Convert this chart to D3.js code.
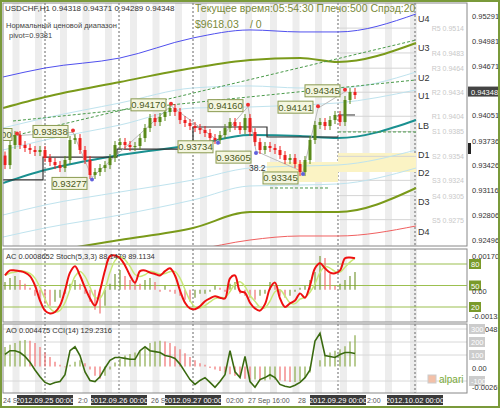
<!DOCTYPE html>
<html><head><meta charset="utf-8">
<script src="https://cdn.jsdelivr.net/npm/d3@7"></script>
<style>body{margin:0;background:#fff}text{font-family:"Liberation Sans",Arial,sans-serif}</style>
</head><body><div id="chart"></div>
<script>
// hourly closes, USDCHF H1
var closes = [0.93431,0.93681,0.93806,0.93681,0.93644,0.93619,0.93594,0.93619,0.93519,0.93469,
  0.93431,0.93394,0.93494,0.93744,0.93768,0.93619,0.93494,0.93307,0.93344,0.93394,
  0.93431,0.93519,0.93681,0.93719,0.93681,0.93656,0.93669,0.93768,0.93893,0.94018,
  0.93968,0.94031,0.94093,0.94143,0.94093,0.93993,0.93956,0.93918,0.93893,0.93868,
  0.93831,0.93768,0.93744,0.93806,0.93893,0.93968,0.93918,0.93868,0.94018,0.93843,
  0.93718,0.93619,0.93669,0.93644,0.93619,0.93556,0.93494,0.93519,0.93444,0.93344,
  0.93494,0.93744,0.93931,0.93968,0.93918,0.93993,0.94056,0.93968,0.94243,0.94343,0.94305];
var firstOpen = 0.93550;
var stoch = [64,71,71,70,68,63,50,29,15,11,13,22,43,68,77,64,47,32,22,43,71,91,92,88,78,64,54,70,71,68,
  66,64,70,74,64,43,26,18,17,21,28,32,35,33,32,60,64,42,40,26,18,15,24,46,54,32,20,25,29,39,
  33,50,74,81,74,68,67,71,88,89,88];
var ac = [4,6,7,5,3,1,-3,-5,-7,-8,-6,-4,-2,3,5,3,-2,-6,-10,-12,-8,3,8,10,7,5,4,3,5,6,4,-1,2,-1,-2,-3,-5,-6,-4,-2,
  -2,-1,2,1,-1,3,4,-2,-3,-4,-5,-3,-2,4,2,-3,-4,-3,-1,1,2,5,9,17,16,8,2,3,5,7,9]; // x1e-4
var ao = [25,28,30,33,34,33,30,25,18,12,6,2,-1,2,6,8,4,-4,-12,-16,-12,-4,5,10,14,16,18,20,24,30,32,33,32,30,26,22,17,12,8,4,
  2,-2,-4,-6,-8,-10,-12,-14,-16,-17,-17,-18,-18,-17,-17,-18,-19,-20,-20,-19,-15,-8,0,8,14,18,20,22,26,32,40]; // x1e-4
var cci = [104,133,133,119,89,44,-15,-67,-111,-126,-111,-104,-52,133,163,96,-30,-96,-104,-67,0,59,81,81,74,67,67,133,163,133,
  126,119,96,89,74,30,-30,-89,-126,-96,-74,-111,-148,-104,-52,133,-30,-74,89,-104,-148,-89,-74,-52,-74,-126,-141,-148,-133,-111,
  -74,-15,207,267,96,89,81,104,119,119,111];

// channel curves sampled at knot bars
var knots = [-0.4,8,23,37.6,49,59,66.6,82.2];
var bandU4 = [0.94530,0.94642,0.94767,0.95017,0.95117,0.95092,0.95092,0.95316];
var bandU3 = [0.94143,0.94280,0.94468,0.94642,0.94742,0.94767,0.94717,0.94954];
var bandU2 = [0.93894,0.94018,0.94206,0.94393,0.94418,0.94393,0.94393,0.94592];
var bandU1 = [0.93619,0.93744,0.93931,0.94143,0.94156,0.94181,0.94206,0.94368];
var bandLB = [0.93207,0.93369,0.93557,0.93681,0.93806,0.93794,0.93769,0.93993];
var bandD1 = [0.92808,0.92933,0.93095,0.93245,0.93394,0.93419,0.93432,0.93619];
var bandD2 = [0.92533,0.92646,0.92808,0.92995,0.93170,0.93182,0.93195,0.93394];
var bandD3 = [0.92271,0.92346,0.92496,0.92646,0.92845,0.92845,0.92845,0.93145];
var bandD4 = [0.92221,0.92221,0.92271,0.92371,0.92496,0.92546,0.92546,0.92671];
var bandNames = ["U4","U3","U2","U1","LB","D1","D2","D3","D4"];
var bandLabelPrices = [0.95266,0.94904,0.94530,0.94305,0.93931,0.93569,0.93344,0.92982,0.92608];

var pivotNames = ["R5","R4","R3","R2","R1","S1","S2","S3","S4","S5"];
var pivotValues = [0.9514,0.9483,0.9464,0.9434,0.9404,0.9385,0.9354,0.9324,0.9305,0.9275];
var priceTicks = [0.95291,0.94981,0.94671,0.94051,0.93736,0.93426,0.93116,0.92806,0.92496];
var lastPrice = 0.94348;

var extremeText = ["0.93800","0.93838","0.93277","0.94170","0.93734","0.94160","0.93605","0.94141","0.94345","0.93345"];
var extremeIdx = [2.4,13.6,17.4,33.2,42.6,48.6,50.2,62.6,68,59.6];
var extremeDir = [1,1,-1,1,-1,1,-1,1,1,-1];
var pivotSteps = [[-0.4,0.93245],[7.6,0.93245],[7.6,0.93531],[22.4,0.93531],[22.4,0.93631],[37.6,0.93631],[37.6,0.93906],[52.4,0.93906],[52.4,0.93781],[66.6,0.93781]];
var dayIdx = [8,22.8,37.6,66.6,82];
var stripeIdx = [1.5,6,11,15.5,20,25,29.5,34,39,43.5,48,53,57.5,62,67,71.5,76,81];
var boxedTimes = ["2012.09.25 00:00","2012.09.26 00:00","2012.09.27 00:00","2012.09.29 00:00","2012.10.02 00:00"];
var boxedIdx = [8,22.8,37.6,66.6,82];
var plainTimes = ["24 S","2:0","26 S","02:00","27 Sep 16:00","28","2:00"];
var plainIdx = [-0.4,14.6,29.2,44.2,48.6,58.6,72.4];

var W = 500, H = 408, left = 3, right = 467;
var svg = d3.select("#chart").append("svg").attr("width", W).attr("height", H);
var x = d3.scaleLinear().domain([0, 1]).range([5, 10]);
var y = d3.scaleLinear().domain([0.92496, 0.95291]).range([240, 16]);
var yAC = d3.scaleLinear().domain([-13.2, 17.05]).range([316, 256]);
var ySt = d3.scaleLinear().domain([20, 80]).range([307, 264]);
var yAO = d3.scaleLinear().domain([-26.5, 48.12]).range([387, 329]);
var yCCI = d3.scaleLinear().domain([0, 300]).range([368, 329]);
var panels = [[3, 246], [249, 322], [324, 393]];

svg.append("rect").attr("width", W).attr("height", H).attr("fill", "#fff");
// stripes
panels.forEach(function (p) {
  svg.append("g").selectAll("rect").data(stripeIdx).enter().append("rect")
    .attr("x", d => x(d)).attr("width", 7).attr("y", p[0]).attr("height", p[1] - p[0]).attr("fill", "#ededed");
  svg.append("g").selectAll("line").data(dayIdx).enter().append("line")
    .attr("x1", d => x(d)).attr("x2", d => x(d)).attr("y1", p[0]).attr("y2", p[1])
    .attr("stroke", "#666").attr("stroke-dasharray", "2,2");
});

var defs = svg.append("defs");
defs.append("clipPath").attr("id", "cm").append("rect").attr("x", left).attr("y", 3).attr("width", right - left).attr("height", 243);
var main = svg.append("g").attr("clip-path", "url(#cm)");

// yellow zones
main.append("rect").attr("x", x(52.4)).attr("width", x(66.6) - x(52.4)).attr("y", 162).attr("height", 20).attr("fill", "#fbf3c4");
main.append("rect").attr("x", x(66.6)).attr("width", x(82.2) - x(66.6)).attr("y", 153).attr("height", 19).attr("fill", "#fbf3c4");

// pivot levels
main.selectAll(".pv").data(pivotValues).enter().append("line")
  .attr("x1", x(66.6)).attr("x2", x(82.2)).attr("y1", d => y(d)).attr("y2", d => y(d)).attr("stroke", "#d4d4d4");
svg.selectAll(".pvt").data(pivotValues).enter().append("text")
  .attr("x", 464).attr("y", d => y(d) + 3).attr("text-anchor", "end").attr("font-size", 7).attr("fill", "#c8c8c8")
  .text((d, i) => pivotNames[i] + " " + d.toFixed(4));

var bands = [bandU4, bandU3, bandU2, bandU1, bandLB, bandD1, bandD2, bandD3, bandD4];
var bandColor = ["#5050ee", "#7a9a1a", "#bfe3ee", "#bfe3ee", "#1a9090", "#bfe3ee", "#bfe3ee", "#7a9a1a", "#f06060"];
var bandWidth = [1, 2, 1, 1, 2, 1, 1, 2, 1];
var bandLine = d3.line().x((d, i) => x(knots[i])).y(d => y(d)).curve(d3.curveMonotoneX);
bands.forEach(function (b, k) {
  main.append("path").attr("d", bandLine(b)).attr("fill", "none").attr("stroke", bandColor[k]).attr("stroke-width", bandWidth[k]);
});
svg.selectAll(".bl").data(bandNames).enter().append("text")
  .attr("x", 418).attr("y", (d, i) => y(bandLabelPrices[i]) + 4).attr("font-size", 9).attr("fill", "#333").text(d => d);

// dashed trend lines
[[[1.6, 0.93794], [82.2, 0.94991]], [[1.6, 0.93981], [82.2, 0.94493]], [[66.6, 0.93844], [82.2, 0.93844]], [[53, 0.93145], [65, 0.93145]]].forEach(function (l) {
  main.append("line").attr("x1", x(l[0][0])).attr("y1", y(l[0][1])).attr("x2", x(l[1][0])).attr("y2", y(l[1][1]))
    .attr("stroke", "#4a9a4a").attr("stroke-dasharray", "3,2");
});

// daily pivot steps
main.append("path").attr("d", d3.line().x(d => x(d[0])).y(d => y(d[1]))(pivotSteps)).attr("fill", "none").attr("stroke", "#333").attr("stroke-width", 1.2);
main.append("line").attr("x1", x(66.6)).attr("x2", x(70)).attr("y1", y(0.94056)).attr("y2", y(0.94056)).attr("stroke", "#333");

// zigzag between extremes
var zz = extremeIdx.map((d, i) => [d, +extremeText[i]]).sort((a, b) => a[0] - b[0]);
main.append("path").attr("d", d3.line().x(d => x(d[0])).y(d => y(d[1]))(zz)).attr("fill", "none").attr("stroke", "#bbb");

// candles
var bars = closes.map((c, i) => ({ i: i, o: i ? closes[i - 1] : firstOpen, c: c }));
var cg = main.selectAll(".c").data(bars).enter().append("g");
cg.append("line").attr("x1", d => x(d.i)).attr("x2", d => x(d.i))
  .attr("y1", d => y(Math.max(d.o, d.c)) - 4).attr("y2", d => y(Math.min(d.o, d.c)) + 4)
  .attr("stroke", d => d.c >= d.o ? "#5a8a1a" : "#ee2020");
cg.append("rect").attr("x", d => x(d.i) - 1.5).attr("width", 3)
  .attr("y", d => y(Math.max(d.o, d.c))).attr("height", d => Math.max(1, Math.abs(y(d.o) - y(d.c))))
  .attr("fill", d => d.c >= d.o ? "#5a8a1a" : "#ee2020");

// extreme labels
extremeText.forEach(function (t, i) {
  var px = x(extremeIdx[i]), py = y(+t);
  main.append("circle").attr("cx", px).attr("cy", py + (extremeDir[i] > 0 ? -2 : 2)).attr("r", 2)
    .attr("fill", extremeDir[i] > 0 ? "#ee3030" : "#6060dd");
  var g = main.append("g").attr("transform", "translate(" + (px - 40) + "," + (py + (extremeDir[i] > 0 ? -7 : 0)) + ")");
  g.append("rect").attr("width", 35).attr("height", 12).attr("fill", "#f4f6e0").attr("stroke", "#8a9a50");
  g.append("text").attr("x", 17.5).attr("y", 9.5).attr("text-anchor", "middle").attr("font-size", 9.5).attr("fill", "#4a5a20").text(t);
});
main.append("text").attr("x", 249).attr("y", 171).attr("font-size", 8.5).attr("fill", "#333").text("38.2");

// header
svg.append("text").attr("x", 5).attr("y", 11).attr("font-size", 8).attr("fill", "#333")
  .text("USDCHF,H1   0.94318 0.94371 0.94289 0.94348");
svg.append("text").attr("x", 6).attr("y", 28).attr("font-size", 7.5).attr("fill", "#444").text("Нормальный ценовой диапазон");
svg.append("text").attr("x", 9).attr("y", 38).attr("font-size", 7.5).attr("fill", "#444").text("pivot=0.9381");
svg.append("text").attr("x", 195).attr("y", 12).attr("font-size", 10.5).attr("fill", "#7a8a3a").text("Текущее время:05:54:30 Плечо:500 Спрэд:20");
svg.append("text").attr("x", 195).attr("y", 28).attr("font-size", 10.5).attr("fill", "#7a8a3a").text("$9618.03");
svg.append("text").attr("x", 250).attr("y", 28).attr("font-size", 10.5).attr("fill", "#7a8a3a").text("/ 0");

// right price axis
svg.selectAll(".pt").data(priceTicks).enter().append("text")
  .attr("x", 472).attr("y", d => y(d) + 3).attr("font-size", 7.5).attr("fill", "#333").text(d => d.toFixed(5));
svg.append("rect").attr("x", 468).attr("y", y(lastPrice) - 5).attr("width", 32).attr("height", 10).attr("fill", "#444");
svg.append("text").attr("x", 471).attr("y", y(lastPrice) + 3).attr("font-size", 7.5).attr("fill", "#fff").text(lastPrice.toFixed(5));
svg.append("rect").attr("x", 468).attr("y", 143).attr("width", 3).attr("height", 11).attr("fill", "#222");

// AC / Stoch panel
[20, 50, 80].forEach(function (v) {
  svg.append("line").attr("x1", left).attr("x2", right).attr("y1", ySt(v)).attr("y2", ySt(v)).attr("stroke", "#9cc050").attr("stroke-width", 1.2);
  svg.append("rect").attr("x", 469).attr("y", ySt(v) - 5).attr("width", 12).attr("height", 10).attr("fill", "#7a9a2a");
  svg.append("text").attr("x", 471).attr("y", ySt(v) + 3).attr("font-size", 7.5).attr("fill", "#fff").text(v);
});
svg.selectAll(".ac").data(ac).enter().append("line")
  .attr("x1", (d, i) => x(i)).attr("x2", (d, i) => x(i)).attr("y1", yAC(0)).attr("y2", d => yAC(d))
  .attr("stroke", (d, i) => i && d < ac[i - 1] ? "#f07070" : "#7a9a3a").attr("stroke-width", 1.2);
var sig = stoch.map((d, i) => d3.mean(stoch.slice(Math.max(0, i - 2), i + 1)));
var sl = d3.line().x((d, i) => x(i)).y(d => ySt(d)).curve(d3.curveCatmullRom);
svg.append("path").attr("d", sl(sig)).attr("fill", "none").attr("stroke", "#c8e878").attr("stroke-width", 1.5);
svg.append("path").attr("d", sl(stoch)).attr("fill", "none").attr("stroke", "#ee1010").attr("stroke-width", 2);
svg.append("text").attr("x", 6).attr("y", 259).attr("font-size", 7.5).attr("fill", "#333").text("AC 0.0008652   Stoch(5,3,3) 88.1479 89.1134");
[["0.001705", 256], ["0.00", 291], ["-0.00132", 316]].forEach(function (t) {
  svg.append("text").attr("x", 472).attr("y", t[1] + 3).attr("font-size", 7.5).attr("fill", "#333").text(t[0]);
});

// AO / CCI panel
[300, 200, 100, -100].forEach(function (v) {
  svg.append("line").attr("x1", left).attr("x2", right).attr("y1", yCCI(v)).attr("y2", yCCI(v)).attr("stroke", "#d8d8d8");
  svg.append("rect").attr("x", 469).attr("y", yCCI(v) - 5).attr("width", 16).attr("height", 10).attr("fill", "#ccc");
  svg.append("text").attr("x", 471).attr("y", yCCI(v) + 3).attr("font-size", 7.5).attr("fill", "#fff").text(v);
});
svg.selectAll(".ao").data(ao).enter().append("line")
  .attr("x1", (d, i) => x(i)).attr("x2", (d, i) => x(i)).attr("y1", yAO(0)).attr("y2", d => yAO(d))
  .attr("stroke", (d, i) => i && d < ao[i - 1] ? "#f07070" : "#8aaa4a").attr("stroke-width", 1.2);
svg.append("path").attr("d", d3.line().x((d, i) => x(i)).y(d => yCCI(d))(cci)).attr("fill", "none").attr("stroke", "#3a6a10").attr("stroke-width", 1.6);
svg.append("text").attr("x", 6).attr("y", 333).attr("font-size", 7.5).attr("fill", "#333").text("AO 0.004475   CCI(14) 129.2316");
svg.append("text").attr("x", 485).attr("y", 332).attr("font-size", 7.5).attr("fill", "#333").text("04812");
svg.append("text").attr("x", 472).attr("y", 371).attr("font-size", 7.5).attr("fill", "#333").text("0.00");
svg.append("text").attr("x", 472).attr("y", 390).attr("font-size", 7.5).attr("fill", "#333").text("-0.00265");
var logo = svg.append("g").attr("transform", "translate(428,382)");
logo.append("rect").attr("x", 0).attr("y", -7).attr("width", 8).attr("height", 8).attr("fill", "#f3c0a8").attr("stroke", "#ccc");
logo.append("text").attr("x", 11).attr("y", 1).attr("font-size", 10).attr("fill", "#7aaa3a").text("alpari");

// panel frames
panels.forEach(function (p) {
  svg.append("rect").attr("x", left).attr("y", p[0]).attr("width", right - left).attr("height", p[1] - p[0])
    .attr("fill", "none").attr("stroke", "#888");
});

// time axis
svg.selectAll(".tp").data(plainTimes).enter().append("text")
  .attr("x", (d, i) => x(plainIdx[i])).attr("y", 403).attr("font-size", 7).attr("fill", "#555").text(d => d);
boxedTimes.forEach(function (t, i) {
  var cx = x(boxedIdx[i]);
  svg.append("rect").attr("x", cx - 28).attr("y", 395).attr("width", 56).attr("height", 10).attr("fill", "#3a3a3a");
  svg.append("text").attr("x", cx).attr("y", 403).attr("text-anchor", "middle").attr("font-size", 7.5).attr("fill", "#fff").text(t);
});

svg.append("rect").attr("x", 1).attr("y", 1).attr("width", W - 2).attr("height", H - 2).attr("fill", "none").attr("stroke", "#7a9a3a").attr("stroke-width", 2);
</script></body></html>
